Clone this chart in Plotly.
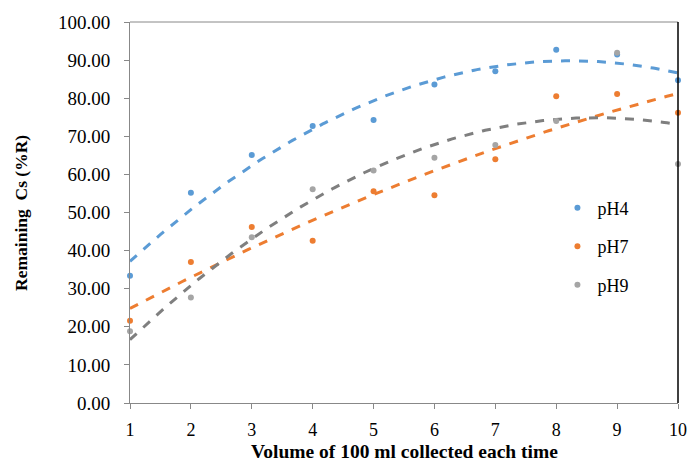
import numpy as np
import plotly.graph_objects as go

x_vals = [1, 2, 3, 4, 5, 6, 7, 8, 9, 10]
ph4 = [33.4, 55.2, 65.1, 72.7, 74.3, 83.6, 87.1, 92.7, 91.5, 84.7]
ph7 = [21.6, 37.0, 46.2, 42.6, 55.6, 54.5, 64.0, 80.5, 81.1, 76.2]
ph9 = [18.8, 27.7, 43.5, 56.1, 61.0, 64.4, 67.7, 74.0, 91.9, 62.7]
series_names = ["pH4", "pH7", "pH9"]
y_ticks = [0, 10, 20, 30, 40, 50, 60, 70, 80, 90, 100]

point_colors = ["#5B9BD5", "#ED7D31", "#A5A5A5"]
line_colors = ["#5B9BD5", "#ED7D31", "#7F7F7F"]

fig = go.Figure()
xs = np.array(x_vals, dtype=float)
xf = np.linspace(1, 10, 200)
for name, ys, pc, lc in zip(series_names, [ph4, ph7, ph9], point_colors, line_colors):
    coef = np.polyfit(xs, np.array(ys), 2)
    fig.add_trace(go.Scatter(x=xf, y=np.polyval(coef, xf), mode="lines",
                             line=dict(color=lc, width=3, dash="dash"),
                             showlegend=False, hoverinfo="skip", cliponaxis=False))
for name, ys, pc in zip(series_names, [ph4, ph7, ph9], point_colors):
    fig.add_trace(go.Scatter(x=x_vals, y=ys, mode="markers", name=name,
                             marker=dict(color=pc, size=6), legendgroup=name,
                             cliponaxis=False))

serif = "Liberation Serif"
fig.update_layout(
    width=688, height=464,
    margin=dict(l=130, r=10, t=22, b=61),
    paper_bgcolor="white", plot_bgcolor="white",
    font=dict(family=serif, color="black"),
    legend=dict(x=0.78, y=0.56, xanchor="left", yanchor="top",
                font=dict(family=serif, size=18, color="black"),
                tracegroupgap=12, itemwidth=30, bgcolor="rgba(0,0,0,0)"),
    xaxis=dict(range=[1, 10], tickvals=x_vals, ticks="outside", ticklen=5,
               tickcolor="#888", showline=True, linecolor="#888", linewidth=1,
               showgrid=False, zeroline=False, ticklabelstandoff=5, automargin=False,
               tickfont=dict(family=serif, size=18, color="black")),
    yaxis=dict(range=[0, 100], tickvals=y_ticks,
               ticktext=[f"{v:.2f}" for v in y_ticks], ticks="outside", ticklen=5,
               tickcolor="#888", showline=True, linecolor="#888", linewidth=1,
               showgrid=False, zeroline=False, ticklabelstandoff=10, automargin=False,
               tickfont=dict(family=serif, size=19, color="black")),
    annotations=[
        dict(text="<b>Volume of 100 ml collected each time</b>", xref="paper", yref="paper",
             x=0.5, y=-0.1286, xanchor="center", yanchor="middle", showarrow=False,
             font=dict(family=serif, size=19.5, color="black")),
        dict(text="<b>Remaining  Cs (%R)</b>", xref="paper", yref="paper",
             x=-0.2, y=0.5, xanchor="center", yanchor="middle", showarrow=False,
             textangle=-90, font=dict(family=serif, size=17.5, color="black")),
    ],
)
fig.add_shape(type="line", xref="paper", yref="paper", x0=0, x1=1, y0=1, y1=1,
              line=dict(color="#888", width=1))
fig.add_shape(type="line", xref="paper", yref="paper", x0=1, x1=1, y0=0, y1=1,
              line=dict(color="black", width=1.5))
fig.write_html("out.html", post_script="document.body.style.margin='0';",
               config={"displayModeBar": False})
